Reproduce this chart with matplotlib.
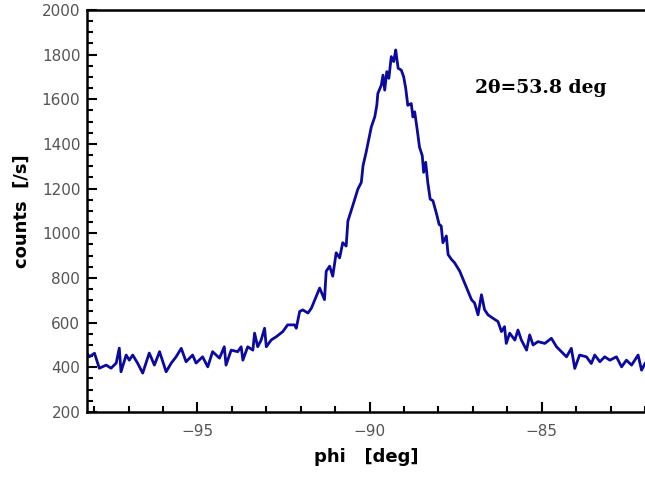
import numpy as np
import matplotlib
matplotlib.use("Agg")
import matplotlib.pyplot as plt
from matplotlib.ticker import MultipleLocator

# phi scan (deg) and counts (/s)
phi = [-98.24, -98.14, -97.99, -97.85, -97.65, -97.51, -97.36, -97.27, -97.22, -97.07,
       -96.98, -96.88, -96.74, -96.59, -96.40, -96.25, -96.10, -95.91, -95.76, -95.62,
       -95.47, -95.33, -95.14, -95.04, -94.85, -94.70, -94.56, -94.36, -94.22, -94.17,
       -94.02, -93.83, -93.73, -93.68, -93.54, -93.39, -93.34, -93.25, -93.15, -93.05,
       -93.00, -92.86, -92.71, -92.52, -92.38, -92.18, -92.13, -92.03, -91.94, -91.79,
       -91.69, -91.55, -91.45, -91.31, -91.26, -91.16, -91.07, -90.97, -90.87, -90.78,
       -90.68, -90.63, -90.49, -90.34, -90.24, -90.19, -90.10, -90.00, -89.95, -89.85,
       -89.79, -89.76, -89.66, -89.61, -89.56, -89.50, -89.44, -89.37, -89.30, -89.24,
       -89.21, -89.17, -89.08, -89.01, -88.95, -88.89, -88.79, -88.74, -88.69, -88.62,
       -88.55, -88.47, -88.43, -88.37, -88.31, -88.24, -88.16, -88.06, -87.98, -87.92,
       -87.87, -87.77, -87.72, -87.62, -87.53, -87.38, -87.24, -87.14, -87.04, -86.95,
       -86.85, -86.75, -86.66, -86.56, -86.42, -86.27, -86.17, -86.08, -86.03, -85.93,
       -85.78, -85.69, -85.59, -85.44, -85.35, -85.25, -85.11, -84.91, -84.72, -84.57,
       -84.43, -84.28, -84.14, -84.04, -83.90, -83.70, -83.56, -83.46, -83.31, -83.17,
       -83.02, -82.83, -82.68, -82.54, -82.39, -82.20, -82.10, -82.00]
counts = [470, 447, 463, 396, 410, 396, 419, 486, 380, 455,
          432, 455, 419, 374, 464, 410, 470, 380, 419, 447,
          485, 425, 455, 419, 447, 402, 470, 441, 492, 410,
          477, 470, 492, 432, 492, 477, 553, 492, 522, 575,
          492, 522, 537, 560, 590, 590, 575, 650, 657, 643,
          665, 717, 755, 703, 830, 853, 808, 913, 890, 958,
          943, 1055, 1123, 1198, 1228, 1303, 1363, 1438, 1476, 1521,
          1573, 1626, 1663, 1708, 1641, 1724, 1694, 1791, 1769, 1821,
          1784, 1739, 1731, 1701, 1649, 1573, 1581, 1521, 1544, 1468,
          1386, 1348, 1273, 1318, 1228, 1153, 1146, 1090, 1040, 1033,
          958, 988, 905, 883, 868, 830, 778, 740, 703, 688,
          635, 725, 658, 635, 620, 605, 560, 582, 507, 553,
          522, 567, 522, 477, 545, 500, 515, 507, 530, 492,
          470, 447, 485, 395, 455, 447, 417, 455, 425, 447,
          432, 447, 402, 432, 410, 455, 387, 417]

fig = plt.figure(figsize=(6.45, 4.79), dpi=100)
ax = fig.add_axes([0.1353, 0.1399, 0.8647, 0.8393])

ax.plot(phi, counts, color='#0a0aa0', linewidth=2.0)

ax.set_xlim(-98.2, -82.0)
ax.set_ylim(200, 2000)
ax.xaxis.set_major_locator(MultipleLocator(5))
ax.xaxis.set_minor_locator(MultipleLocator(1))
ax.yaxis.set_major_locator(MultipleLocator(200))
ax.yaxis.set_minor_locator(MultipleLocator(50))

ax.tick_params(which='both', direction='in', top=False, right=False,
               width=1.5, labelcolor='#555555', labelsize=11)
ax.tick_params(which='major', length=7)
ax.tick_params(which='minor', length=4)
ax.tick_params(axis='x', pad=9)
ax.tick_params(axis='y', pad=5)

for side in ['left', 'bottom', 'top']:
    ax.spines[side].set_linewidth(1.8)
ax.spines['right'].set_visible(False)

ax.set_xlabel('phi   [deg]', fontsize=13, fontweight='bold', labelpad=6)
ax.set_ylabel('counts  [/s]', fontsize=13, fontweight='bold', labelpad=8)

ax.text(0.695, 0.806, '2θ=53.8 deg', transform=ax.transAxes,
        fontsize=13.5, fontweight='bold', family='DejaVu Serif', va='center')

fig.savefig('out.png', dpi=100)
